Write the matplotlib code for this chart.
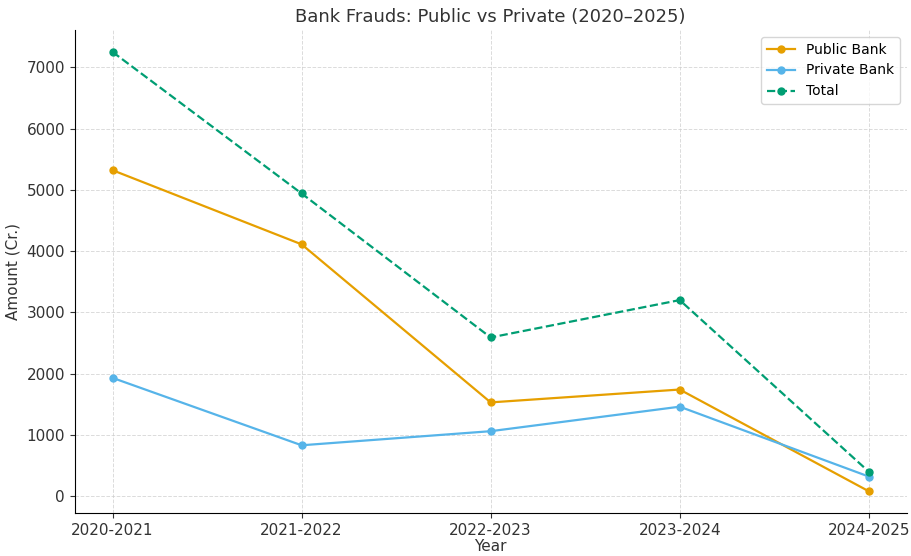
import matplotlib.pyplot as plt

# Data
years = ["2020-2021", "2021-2022", "2022-2023", "2023-2024", "2024-2025"]
public_bank = [5320, 4110, 1530, 1740, 80]
private_bank = [1930, 830, 1060, 1460, 320]
total = [7250, 4940, 2590, 3200, 400]

fig, ax = plt.subplots(figsize=(9.12, 5.56), dpi=100)

ax.plot(years, public_bank, marker='o', color='#E69F00', label='Public Bank', linewidth=1.6, markersize=5)
ax.plot(years, private_bank, marker='o', color='#56B4E9', label='Private Bank', linewidth=1.6, markersize=5)
ax.plot(years, total, marker='o', linestyle='--', color='#009E73', label='Total', linewidth=1.6, markersize=5)

ax.set_title('Bank Frauds: Public vs Private (2020–2025)', fontsize=13, color='#333333')
ax.set_xlabel('Year', fontsize=11, color='#333333', labelpad=1)
ax.set_ylabel('Amount (Cr.)', fontsize=11, color='#333333')
ax.tick_params(labelsize=11, colors='#333333')
ax.grid(True, linestyle='--', color='#cccccc', alpha=0.7, linewidth=0.7)
ax.spines['top'].set_visible(False)
ax.spines['right'].set_visible(False)
ax.legend(loc='upper right', fontsize=10)

plt.subplots_adjust(left=0.082, right=0.994, top=0.946, bottom=0.077)
plt.savefig('out.png', dpi=100)
